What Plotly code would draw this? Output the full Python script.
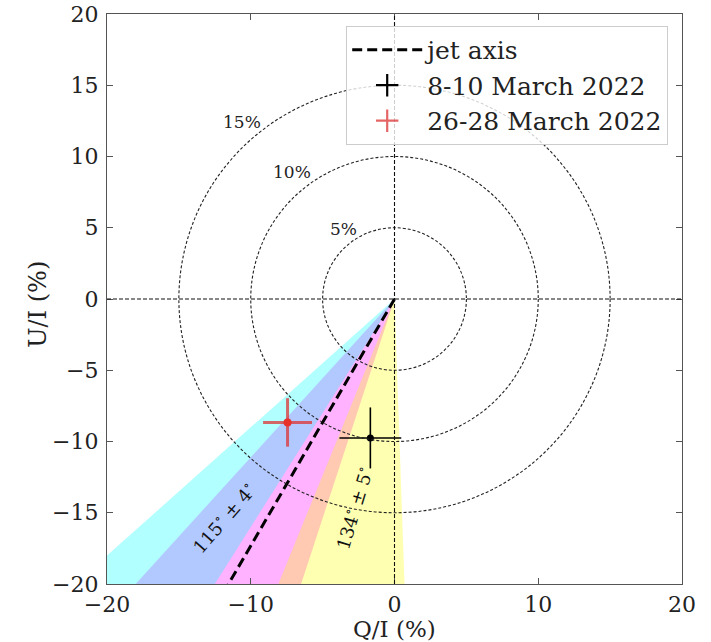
import numpy as np
import plotly.graph_objects as go

# ---- data ----
# wedges: EVPA centre and half width (deg); direction in Q/U plane is 2*EVPA
wedge_evpa_center = [120, 115, 130]
wedge_evpa_halfwidth = [6, 4, 6]
wedge_colors = ["rgba(255,0,255,0.30)", "rgba(0,255,255,0.30)", "rgba(255,255,0,0.30)"]

jet_axis_evpa = 120

epochs = ["8-10 March 2022", "26-28 March 2022"]
q_vals = [-1.68, -7.44]
u_vals = [-9.75, -8.66]
q_errs = [2.15, 1.70]
u_errs = [2.14, 1.70]
point_colors = ["black", "#e8302a"]
bar_colors = ["black", "rgba(220,50,50,0.75)"]
bar_widths = [1.6, 3]
marker_sizes = [7, 8]

circle_radii = [5, 10, 15]
circle_labels = ["5%", "10%", "15%"]
circle_label_x = [-3.55, -7.1, -10.59]
circle_label_y = [4.92, 8.92, 12.43]

angle_labels = ["115<sup>∘</sup> ± 4<sup>∘</sup>", "134<sup>∘</sup> ± 5<sup>∘</sup>"]
angle_label_x = [-11.91, -2.85]
angle_label_y = [-15.34, -14.66]
angle_label_rot = [-49, -73]

x_ticks = [-20, -10, 0, 10, 20]
y_ticks = [-20, -15, -10, -5, 0, 5, 10, 15, 20]
x_title = "Q/I (%)"
y_title = "U/I (%)"

FONT = "DejaVu Serif"
R = 60

fig = go.Figure()

# wedges
for c, h, col in zip(wedge_evpa_center, wedge_evpa_halfwidth, wedge_colors):
    a1 = np.deg2rad(2 * (c - h))
    a2 = np.deg2rad(2 * (c + h))
    fig.add_trace(go.Scatter(
        x=[0, R * np.cos(a1), R * np.cos(a2), 0],
        y=[0, R * np.sin(a1), R * np.sin(a2), 0],
        mode="lines", fill="toself", fillcolor=col,
        line=dict(width=0), hoverinfo="skip", showlegend=False))

# jet axis
ja = np.deg2rad(2 * jet_axis_evpa)
fig.add_trace(go.Scatter(
    x=[0, R * np.cos(ja)], y=[0, R * np.sin(ja)],
    mode="lines", line=dict(color="black", width=3, dash="10px,5px"),
    name="jet axis", showlegend=True))

# data points
for i in range(len(epochs)):
    fig.add_trace(go.Scatter(
        x=[q_vals[i]], y=[u_vals[i]], mode="markers",
        marker=dict(color=point_colors[i], size=marker_sizes[i]),
        error_x=dict(type="data", array=[q_errs[i]], width=0,
                     thickness=bar_widths[i], color=bar_colors[i]),
        error_y=dict(type="data", array=[u_errs[i]], width=0,
                     thickness=bar_widths[i], color=bar_colors[i]),
        showlegend=False, name=epochs[i]))
    # legend proxy (errorbar-like handle)
    fig.add_trace(go.Scatter(
        x=[None], y=[None], mode="markers", name=epochs[i],
        marker=dict(symbol="cross-thin", size=16,
                    line=dict(color=bar_colors[i], width=2.2),
                    color=point_colors[i])))

# circles
for r in circle_radii:
    fig.add_shape(type="circle", xref="x", yref="y",
                  x0=-r, y0=-r, x1=r, y1=r,
                  line=dict(color="#222", width=1.1, dash="3px,2px"))

# axes through origin
fig.add_shape(type="line", xref="x", yref="y", x0=-20, x1=20, y0=0, y1=0,
              line=dict(color="#111", width=1.1, dash="4px,2px"))
fig.add_shape(type="line", xref="x", yref="y", x0=0, x1=0, y0=-20, y1=20,
              line=dict(color="#111", width=1.1, dash="4px,2px"))

# circle labels
for t, x, y in zip(circle_labels, circle_label_x, circle_label_y):
    fig.add_annotation(x=x, y=y, text=t, showarrow=False,
                       font=dict(family=FONT, size=17, color="#222"))

# wedge labels
for t, x, y, a in zip(angle_labels, angle_label_x, angle_label_y, angle_label_rot):
    fig.add_annotation(x=x, y=y, text=t, showarrow=False, textangle=a,
                       font=dict(family=FONT, size=18, color="#111"))

# axis titles
fig.add_annotation(xref="paper", yref="paper", x=0.5, y=-0.0785, text=x_title,
                   showarrow=False, xanchor="center", yanchor="middle",
                   font=dict(family=FONT, size=23, color="#222"))
fig.add_annotation(xref="paper", yref="paper", x=-0.12, y=0.49, text=y_title,
                   showarrow=False, xanchor="center", yanchor="middle", textangle=-90,
                   font=dict(family=FONT, size=24, color="#222"))

axis_common = dict(
    showgrid=False, zeroline=False, showline=True, mirror="ticks",
    linecolor="#555", linewidth=1.2, ticks="inside", ticklen=6,
    tickcolor="#555", tickwidth=1.2, automargin=False,
    ticklabeloverflow="allow",
    tickfont=dict(family=FONT, size=22, color="#222"),
)

fig.update_layout(
    width=711, height=642,
    margin=dict(l=107, r=29, t=14, b=58),
    plot_bgcolor="white", paper_bgcolor="white",
    xaxis=dict(range=[-20, 20], tickvals=x_ticks, ticklabelstandoff=0, **axis_common),
    yaxis=dict(range=[-20, 20], tickvals=y_ticks, ticklabelstandoff=3, **axis_common),
    legend=dict(x=0.416, y=0.979, xanchor="left", yanchor="top",
                bgcolor="rgba(255,255,255,0.8)", bordercolor="#ccc", borderwidth=1,
                font=dict(family=FONT, size=25, color="#222"),
                itemwidth=70, tracegroupgap=0),
    showlegend=True,
)

fig.write_html("out.html", config={"displayModeBar": False},
               post_script="document.body.style.margin='0';")
